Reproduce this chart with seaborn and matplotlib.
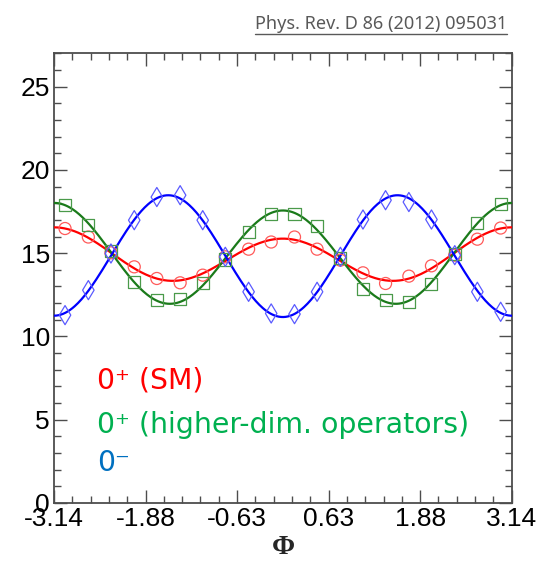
import numpy as np
import pandas as pd
import matplotlib
matplotlib.use("Agg")
import matplotlib.pyplot as plt
from matplotlib.lines import Line2D
from matplotlib.ticker import FixedLocator, FixedFormatter
import seaborn as sns

# ---- data ----
phi = [-2.99, -2.67, -2.36, -2.04, -1.73, -1.41, -1.10, -0.79, -0.47, -0.16,
       0.16, 0.47, 0.79, 1.10, 1.41, 1.73, 2.04, 2.36, 2.67, 2.99]
sm_vals = [16.48, 15.97, 15.02, 14.18, 13.48, 13.22, 13.68, 14.78, 15.24, 15.67,
           15.97, 15.24, 14.58, 13.82, 13.18, 13.62, 14.24, 14.88, 15.84, 16.51]
hd_vals = [17.88, 16.72, 15.12, 13.28, 12.18, 12.22, 13.18, 14.62, 16.27, 17.38,
           17.38, 16.62, 14.72, 12.82, 12.18, 12.08, 13.12, 14.94, 16.84, 17.98]
ps_vals = [11.28, 12.78, 14.98, 16.98, 18.37, 18.48, 16.98, 14.78, 12.68, 11.38,
           11.34, 12.68, 14.78, 17.02, 18.18, 18.07, 17.02, 14.88, 12.68, 11.48]

xtick_labels = ["-3.14", "-1.88", "-0.63", "0.63", "1.88", "3.14"]
ytick_vals = [0, 5, 10, 15, 20, 25]
legend_labels = ["0\u207a (SM)", "0\u207a (higher-dim. operators)", "0\u207b"]
legend_colors = ["#ff0000", "#00b050", "#0070c0"]
curve_colors = ["#ff0000", "#1a7a1a", "#0000ff"]
marker_colors = ["#ff5a5a", "#4a9a4a", "#5a5aff"]
markers = ["o", "s", "d"]
source = "Phys. Rev. D 86 (2012) 095031"

sns.set_theme(style="ticks")
plt.rcParams["font.family"] = ["Liberation Sans", "DejaVu Sans"]

W, H = 539, 562
fig = plt.figure(figsize=(W / 100, H / 100), dpi=100)
ax = fig.add_axes([54 / W, 1 - 503 / H, (511.7 - 54) / W, (503 - 53.3) / H])

x = np.asarray(phi)
grid = np.linspace(-np.pi, np.pi, 400)


def fit_curve(y):
    A = np.column_stack([np.ones_like(x), np.cos(x), np.cos(2 * x)])
    coef, *_ = np.linalg.lstsq(A, np.asarray(y), rcond=None)
    G = np.column_stack([np.ones_like(grid), np.cos(grid), np.cos(2 * grid)])
    return G @ coef


series = [sm_vals, hd_vals, ps_vals]
for vals, cc, mc, mk in zip(series, curve_colors, marker_colors, markers):
    sns.lineplot(x=grid, y=fit_curve(vals), color=cc, lw=1.6, ax=ax, zorder=3)
    size = 95 if mk == "d" else 75
    sns.scatterplot(x=x, y=vals, marker=mk, s=size, facecolor="none",
                    edgecolor=mc, linewidth=0.9, ax=ax, zorder=4)

ax.set_xlim(-np.pi, np.pi)
ax.set_ylim(0, 27)
ax.xaxis.set_major_locator(FixedLocator(np.linspace(-np.pi, np.pi, 6)))
ax.xaxis.set_major_formatter(FixedFormatter(xtick_labels))
ax.xaxis.set_minor_locator(FixedLocator(np.linspace(-np.pi, np.pi, 26)))
ax.yaxis.set_major_locator(FixedLocator(ytick_vals))
ax.yaxis.set_minor_locator(FixedLocator(np.arange(0, 28, 1)))
ax.set_xlabel("")
ax.set_ylabel("")

frame_col = "#4d4d4d"
for sp in ax.spines.values():
    sp.set_visible(True)
    sp.set_color(frame_col)
    sp.set_linewidth(1.3)
ax.tick_params(which="both", direction="in", top=True, right=True,
               color=frame_col, width=1.0, labelsize=19, labelcolor="black")
ax.tick_params(which="major", length=9.5, pad=3)
ax.tick_params(which="minor", length=5)

fig.text(283 / W, 1 - 548 / H, "\u03a6", ha="center", va="center",
         fontsize=20, fontweight="bold", family=["Liberation Serif", "DejaVu Serif"])

baselines = [388, 433, 471]
for lab, col, yb in zip(legend_labels, legend_colors, baselines):
    fig.text(97 / W, 1 - yb / H, lab, color=col, fontsize=20.4,
             family=["DejaVu Sans"], va="baseline", ha="left")

t = fig.text(507 / W, 1 - 29 / H, source, ha="right", va="baseline",
             color="#595959", fontsize=13, family=["Noto Sans", "DejaVu Sans"])
fig.canvas.draw()
bb = t.get_window_extent()
uy = 1 - 34 / H
fig.add_artist(Line2D([bb.x0 / W, bb.x1 / W], [uy, uy], transform=fig.transFigure,
                      color="#595959", lw=1.0))

fig.savefig("out.png", dpi=100)
